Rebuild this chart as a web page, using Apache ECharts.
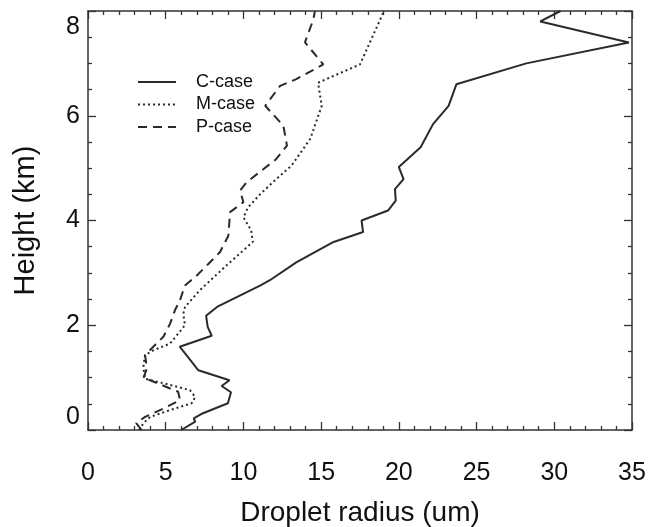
<!DOCTYPE html>
<html>
<head>
<meta charset="utf-8">
<script src="https://cdn.jsdelivr.net/npm/echarts@6/dist/echarts.min.js"></script>
<style>
  html, body { margin: 0; padding: 0; background: #fff; }
  #main { width: 650px; height: 527px; }
</style>
</head>
<body>
<div id="main"></div>
<script>
// [radius (um), height (km)]
var cCase = [[6.0,0],[6.9,0.16],[6.8,0.22],[7.4,0.32],[9.0,0.51],[9.2,0.72],[8.6,0.84],[9.1,0.95],[7.1,1.14],[6.6,1.33],[5.9,1.59],[7.96,1.8],[7.7,1.97],[7.6,2.18],[8.3,2.35],[11.1,2.76],[11.7,2.86],[13.4,3.2],[15.8,3.59],[17.7,3.78],[17.6,4.0],[19.3,4.19],[19.8,4.38],[19.75,4.6],[20.3,4.79],[20.0,5.02],[21.4,5.4],[22.2,5.84],[23.2,6.19],[23.7,6.6],[28.2,7.0],[34.8,7.4],[29.1,7.8],[30.4,8.0]]
var mCase = [[3.3,0],[3.56,0.13],[4.0,0.25],[5.28,0.38],[6.67,0.51],[6.9,0.63],[6.56,0.76],[5.28,0.86],[3.67,0.98],[3.56,1.2],[3.67,1.43],[4.2,1.52],[5.28,1.65],[6.24,2.0],[6.13,2.22],[6.24,2.35],[7.2,2.67],[8.9,3.14],[10.6,3.59],[10.5,3.81],[10.0,4.06],[10.3,4.25],[11.07,4.5],[12.0,4.76],[13.1,5.05],[14.3,5.56],[15.04,6.19],[14.8,6.63],[17.5,6.98],[19.0,7.97],[19.1,8.0]]
var pCase = [[3.45,0],[3.1,0.13],[3.67,0.25],[4.85,0.41],[5.92,0.57],[5.8,0.73],[4.0,0.95],[3.56,0.98],[3.78,1.17],[3.78,1.21],[3.67,1.43],[4.2,1.59],[4.85,1.78],[5.28,2.03],[5.6,2.29],[5.92,2.48],[6.24,2.76],[7.0,2.95],[7.74,3.17],[8.5,3.4],[9.03,3.71],[9.14,4.16],[10.0,4.35],[9.78,4.57],[10.2,4.73],[12.1,5.17],[12.8,5.43],[12.57,5.81],[11.4,6.19],[12.36,6.57],[13.4,6.7],[15.14,6.98],[13.96,7.4],[14.5,7.84],[14.6,8.0]]
var caseNames = ['C-case', 'M-case', 'P-case']

var chart = echarts.init(document.getElementById('main'))
var font = 'Liberation Sans, Arial, Helvetica, sans-serif'
var axColor = '#333'

function xAx(pos, showLabel) {
  return {
    type: 'value', position: pos, min: 0, max: 35, interval: 5,
    name: showLabel ? 'Droplet radius (um)' : '',
    nameLocation: 'middle', nameGap: 69,
    nameTextStyle: { fontFamily: font, fontSize: 28, color: '#111' },
    axisLine: { show: true, onZero: false, lineStyle: { color: axColor, width: 1.5 } },
    axisTick: { show: true, inside: true, length: 8, lineStyle: { color: axColor, width: 1.3 } },
    minorTick: { show: true, splitNumber: 5, length: 4, lineStyle: { color: axColor, width: 1.3 } },
    axisLabel: { show: showLabel, margin: 31, fontFamily: font, fontSize: 25, color: '#111' },
    splitLine: { show: false }
  }
}
function yAx(pos, showLabel) {
  return {
    type: 'value', position: pos, min: 0, max: 8, interval: 2,
    name: showLabel ? 'Height (km)' : '',
    nameLocation: 'middle', nameGap: 48, nameRotate: 90,
    nameTextStyle: { fontFamily: font, fontSize: 29, color: '#111' },
    axisLine: { show: true, onZero: false, lineStyle: { color: axColor, width: 1.5 } },
    axisTick: { show: true, inside: true, length: 8, lineStyle: { color: axColor, width: 1.3 } },
    minorTick: { show: true, splitNumber: 4, length: 4, lineStyle: { color: axColor, width: 1.3 } },
    axisLabel: {
      show: showLabel, margin: 8, fontFamily: font, fontSize: 25, color: '#111',
      padding: [4, 0, 0, 0],
      verticalAlignMaxLabel: 'top', verticalAlignMinLabel: 'bottom'
    },
    splitLine: { show: false }
  }
}

function line(name, data, type) {
  return {
    name: name, type: 'line', data: data,
    xAxisIndex: 0, yAxisIndex: 0,
    symbol: 'none', showSymbol: false, animation: false,
    lineStyle: { color: '#2a2a2a', width: 2, type: type },
    itemStyle: { color: '#2a2a2a' }
  }
}

chart.setOption({
  animation: false,
  grid: { left: 88, right: 18, top: 11, bottom: 97, outerBoundsMode: 'none' },
  legend: {
    data: caseNames, orient: 'vertical', left: 132, top: 68,
    itemWidth: 38, itemHeight: 14, itemGap: 4.5,
    itemStyle: { opacity: 0 },
    textStyle: { fontFamily: font, fontSize: 18, color: '#111', padding: [0, 0, 0, 15] }
  },
  xAxis: [xAx('bottom', true), xAx('top', false)],
  yAxis: [yAx('left', true), yAx('right', false)],
  series: [
    line(caseNames[0], cCase, 'solid'),
    line(caseNames[1], mCase, [2, 3]),
    line(caseNames[2], pCase, [9, 6])
  ]
})
</script>
</body>
</html>
